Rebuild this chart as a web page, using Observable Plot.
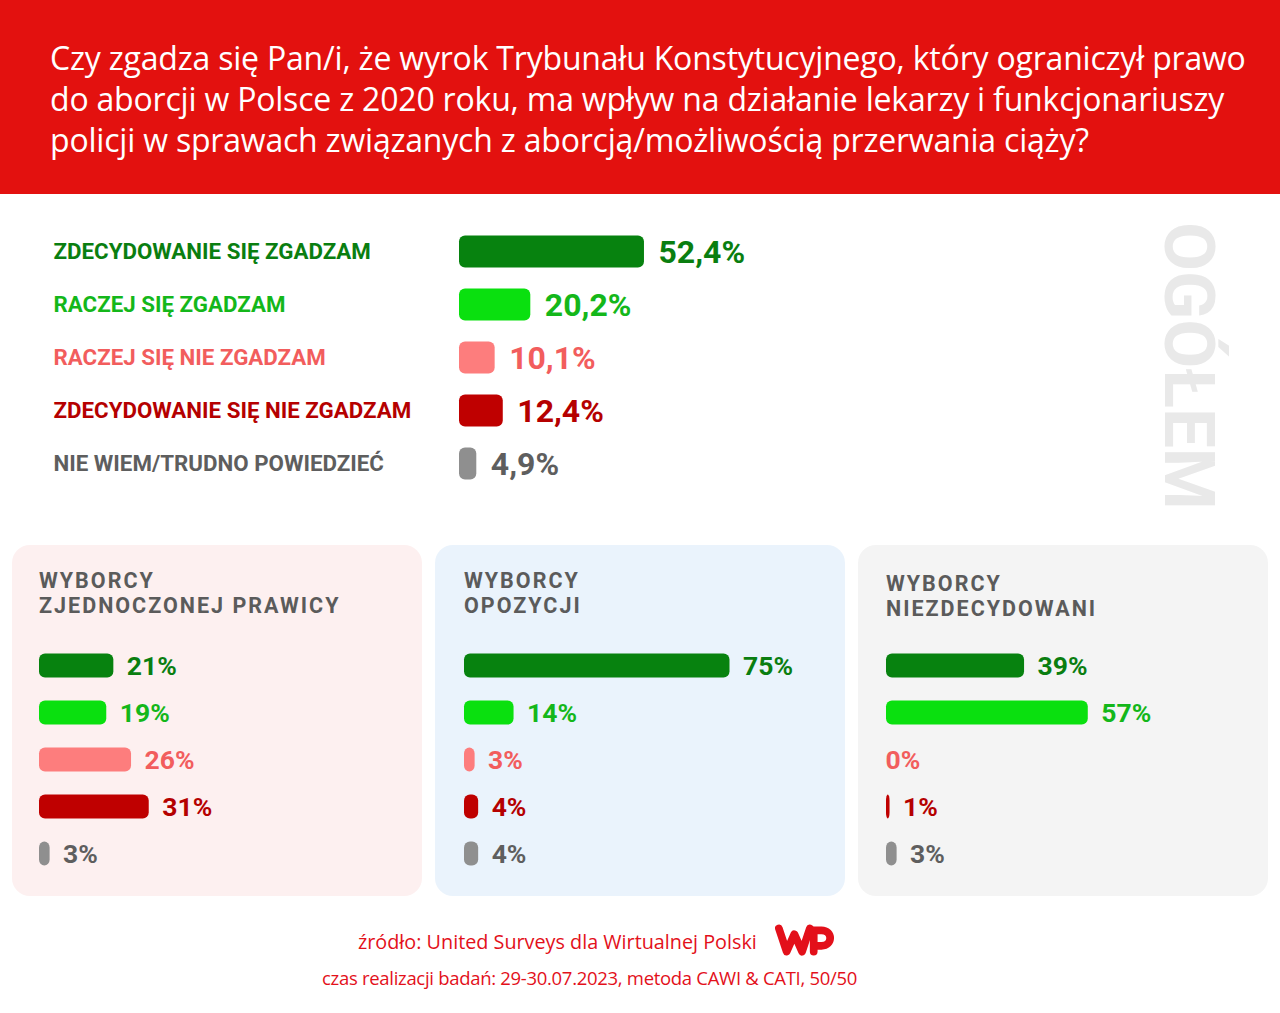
<!DOCTYPE html>
<html>
<head>
<meta charset="utf-8">
<script src="https://cdn.jsdelivr.net/npm/d3@7"></script>
<script src="https://cdn.jsdelivr.net/npm/@observablehq/plot@0.6"></script>
<style>
  html, body { margin: 0; padding: 0; background: #ffffff; }
  #root { position: relative; width: 1280px; height: 1013px; overflow: hidden; background: #fff; font-family: Roboto, "Noto Sans", sans-serif; }
  .abs { position: absolute; }
  #header { left: 0; top: 0; width: 1280px; height: 194px; background: #e3110f; }
  #title { left: 50px; top: 37px; color: #fff; font-family: "Open Sans", Roboto, sans-serif; font-size: 32px; line-height: 41px; white-space: nowrap; letter-spacing: -0.2px; }
  .panel { top: 545px; width: 410px; height: 351px; border-radius: 18px; }
  .ptitle { font-weight: 700; font-size: 21.5px; line-height: 25px; height: 25px; color: #5b5b5b; letter-spacing: 2px; white-space: nowrap; }
  #ogolem { left: 1189px; top: 366px; transform: translate(-50%, -50%) rotate(90deg); font-weight: 700; font-size: 71px; color: #e9e9e9; white-space: nowrap; line-height: 1; }
  .foot { color: #e3101a; font-family: "Open Sans", Roboto, sans-serif; white-space: nowrap; }
</style>
</head>
<body>
<div id="root">
  <div id="header" class="abs"></div>
  <div id="title" class="abs"></div>
  <div id="ogolem" class="abs">OGÓŁEM</div>
  <div id="main" class="abs" style="left:0;top:200px;"></div>
  <div id="panels"></div>
  <div class="abs foot" style="left:358px;top:928px;font-size:19.8px;">źródło: United Surveys dla Wirtualnej Polski</div>
  <svg class="abs" style="left:775px;top:922px;" width="60" height="36" viewBox="0 0 62 36">
    <path d="M4 6 L12 30 L20 12 L28 30 L36 6" fill="none" stroke="#e3101a" stroke-width="8" stroke-linejoin="round" stroke-linecap="round"/>
    <path d="M40 30 L40 8 L48 8 C60 8 60 24 48 24 L44 24" fill="none" stroke="#e3101a" stroke-width="8" stroke-linejoin="round" stroke-linecap="round"/>
  </svg>
  <div class="abs foot" style="left:322px;top:965px;font-size:18.5px;letter-spacing:-0.3px;">czas realizacji badań: 29-30.07.2023, metoda CAWI &amp; CATI, 50/50</div>
</div>
<script>
// ---- Data ----
const titleLines = [
  "Czy zgadza się Pan/i, że wyrok Trybunału Konstytucyjnego, który ograniczył prawo",
  "do aborcji w Polsce z 2020 roku, ma wpływ na działanie lekarzy i funkcjonariuszy",
  "policji w sprawach związanych z aborcją/możliwością przerwania ciąży?"
];
const categories = [
  "ZDECYDOWANIE SIĘ ZGADZAM",
  "RACZEJ SIĘ ZGADZAM",
  "RACZEJ SIĘ NIE ZGADZAM",
  "ZDECYDOWANIE SIĘ NIE ZGADZAM",
  "NIE WIEM/TRUDNO POWIEDZIEĆ"
];
const overall = [52.4, 20.2, 10.1, 12.4, 4.9];
const barColors = ["#07820f", "#0ae00f", "#fd7d7d", "#bf0000", "#8f8f8f"];
const textColors = ["#0a7e10", "#14b71a", "#f25d5d", "#b50000", "#5e5e5e"];

const groupTitles = [
  ["WYBORCY", "ZJEDNOCZONEJ PRAWICY"],
  ["WYBORCY", "OPOZYCJI"],
  ["WYBORCY", "NIEZDECYDOWANI"]
];
const rightVoters = [21, 19, 26, 31, 3];
const oppositionVoters = [75, 14, 3, 4, 4];
const undecidedVoters = [39, 57, 0, 1, 3];
const groupValues = [rightVoters, oppositionVoters, undecidedVoters];
const panelBackgrounds = ["#fdf0f0", "#eaf3fc", "#f4f4f4"];

// ---- Title ----
document.getElementById("title").innerHTML = titleLines.join("<br>");

// ---- Main chart ----
const mainData = categories.map((c, i) => ({cat: c, v: overall[i], bar: barColors[i], txt: textColors[i]}));
const fmt1 = v => v.toFixed(1).replace(".", ",") + "%";

const main = Plot.plot({
  width: 1280,
  height: 330,
  marginLeft: 459,
  marginRight: 468,
  marginTop: 25,
  marginBottom: 40,
  x: {domain: [0, 100], axis: null},
  y: {domain: categories, axis: null, padding: 0},
  color: {type: "identity"},
  style: {background: "transparent", overflow: "visible", fontFamily: "Roboto, sans-serif"},
  marks: [
    Plot.barX(mainData, {x: "v", y: "cat", fill: "bar", insetTop: 10.5, insetBottom: 10.5, rx: 6}),
    Plot.text(mainData, {y: "cat", text: "cat", frameAnchor: "left", dx: -406, textAnchor: "start", fill: "txt", fontWeight: 700, fontSize: 22.3}),
    Plot.text(mainData, {x: "v", y: "cat", text: d => fmt1(d.v), dx: 14, dy: 1, textAnchor: "start", fill: "txt", fontWeight: 700, fontSize: 32})
  ]
});
document.getElementById("main").appendChild(main);

// ---- Panels ----
const panelLefts = [12, 435, 858];
const innerLefts = [27, 29, 28];
const titleTops = [568, 568, 571];
const panelsEl = document.getElementById("panels");
groupValues.forEach((vals, g) => {
  const panel = document.createElement("div");
  panel.className = "abs panel";
  panel.style.left = panelLefts[g] + "px";
  panel.style.background = panelBackgrounds[g];
  panelsEl.appendChild(panel);

  groupTitles[g].forEach((line, k) => {
    const t = document.createElement("div");
    t.className = "abs ptitle";
    t.style.left = (panelLefts[g] + innerLefts[g]) + "px";
    t.style.top = (titleTops[g] + k * 25.3) + "px";
    t.textContent = line;
    panelsEl.appendChild(t);
  });

  const data = categories.map((c, i) => ({cat: c, v: vals[i], bar: barColors[i], txt: textColors[i]}));
  const chart = Plot.plot({
    width: 410,
    height: 256,
    marginLeft: innerLefts[g],
    marginRight: 410 - innerLefts[g] - 354,
    marginTop: 10,
    marginBottom: 10,
    x: {domain: [0, 100], axis: null},
    y: {domain: categories, axis: null, padding: 0},
    color: {type: "identity"},
    style: {background: "transparent", overflow: "visible", fontFamily: "Roboto, sans-serif"},
    marks: [
      Plot.barX(data.filter(d => d.v > 0), {x: "v", y: "cat", fill: "bar", insetTop: 11.6, insetBottom: 11.6, rx: 6}),
      Plot.text(data.filter(d => d.v > 0), {x: "v", y: "cat", text: d => d.v + "%", dx: 13, dy: 1, textAnchor: "start", fill: "txt", fontWeight: 700, fontSize: 26.5}),
      Plot.text(data.filter(d => d.v === 0), {x: "v", y: "cat", text: d => d.v + "%", dx: -1, dy: 1, textAnchor: "start", fill: "txt", fontWeight: 700, fontSize: 26.5})
    ]
  });
  const holder = document.createElement("div");
  holder.className = "abs";
  holder.style.left = panelLefts[g] + "px";
  holder.style.top = "631px";
  holder.appendChild(chart);
  panelsEl.appendChild(holder);
});
</script>
</body>
</html>
